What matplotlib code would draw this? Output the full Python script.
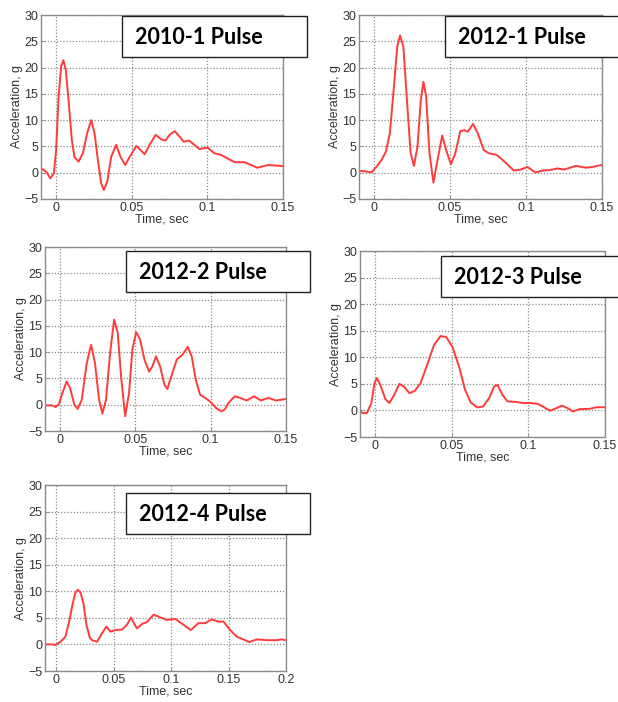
import matplotlib
matplotlib.use("Agg")
import matplotlib.pyplot as plt
from matplotlib.patches import Rectangle

# ---------------- data ----------------
t_2010_1 = [-0.0099, -0.0066, -0.0038, -0.0015, 0.0, 0.0015, 0.0033, 0.0048, 0.0064, 0.0082,
            0.0104, 0.0121, 0.0148, 0.0177, 0.0205, 0.0232, 0.0254, 0.0276, 0.0298, 0.0315,
            0.0338, 0.0364, 0.0397, 0.0426, 0.0457, 0.0486, 0.053, 0.0559, 0.0585, 0.0618,
            0.0658, 0.0695, 0.0722, 0.075, 0.0784, 0.0817, 0.0843, 0.088, 0.0914, 0.0947,
            0.1, 0.1046, 0.109, 0.1134, 0.118, 0.1245, 0.1289, 0.133, 0.14, 0.15]
a_2010_1 = [0.84, 0.2, -1.07, -0.1, 4.3, 13.8, 20.2, 21.4, 19.5, 13.8,
            6.2, 3.0, 2.1, 3.7, 7.5, 10.0, 7.5, 2.4, -2.0, -3.3,
            -1.7, 3.0, 5.3, 3.0, 1.46, 3.0, 5.1, 4.3, 3.5, 5.3,
            7.2, 6.35, 6.1, 7.2, 7.9, 6.85, 5.9, 6.1, 5.3, 4.5,
            4.8, 3.7, 3.4, 2.7, 2.0, 2.0, 1.46, 0.95, 1.46, 1.27]

t_2012_1 = [-0.0117, -0.0073, -0.0018, 0.0015, 0.0048, 0.0077, 0.0103, 0.013, 0.0152, 0.017,
            0.0192, 0.0214, 0.024, 0.0262, 0.0285, 0.0307, 0.0324, 0.0342, 0.0364, 0.039,
            0.0417, 0.0448, 0.0474, 0.0505, 0.0534, 0.0567, 0.0593, 0.0616, 0.0651, 0.0682,
            0.0722, 0.0755, 0.0805, 0.0843, 0.0876, 0.092, 0.0965, 0.1009, 0.106, 0.1108,
            0.1152, 0.1207, 0.125, 0.1328, 0.1394, 0.1438, 0.1496]
a_2012_1 = [0.38, 0.32, 0.07, 1.14, 2.4, 4.0, 7.5, 16.4, 24.0, 26.1,
            24.0, 14.5, 3.7, 1.3, 5.0, 13.8, 17.3, 14.5, 3.7, -1.9,
            2.4, 7.1, 4.3, 1.6, 3.7, 7.9, 8.1, 7.8, 9.3, 7.5,
            4.3, 3.7, 3.4, 2.5, 1.6, 0.4, 0.6, 1.1, 0.06, 0.4,
            0.5, 0.8, 0.6, 1.3, 0.95, 1.1, 1.46]

t_2012_2 = [-0.01, -0.0055, -0.0029, -0.0007, 0.0015, 0.0044, 0.0066, 0.0095, 0.0117, 0.0144,
            0.0177, 0.0206, 0.0232, 0.0259, 0.0281, 0.0305, 0.0332, 0.0359, 0.0383, 0.0405,
            0.0432, 0.0458, 0.048, 0.0505, 0.0531, 0.056, 0.0591, 0.0613, 0.0637, 0.0664,
            0.0693, 0.0712, 0.0742, 0.0775, 0.0812, 0.0848, 0.0874, 0.0901, 0.093, 0.0974,
            0.1007, 0.104, 0.1074, 0.1096, 0.1117, 0.116, 0.1195, 0.1239, 0.1288, 0.1333,
            0.1383, 0.1434, 0.15]
a_2012_2 = [-0.13, -0.13, -0.44, 0.13, 2.2, 4.4, 3.2, 0.0, -0.8, 0.95,
            7.9, 11.4, 7.9, 0.95, -1.7, 0.95, 9.8, 16.2, 13.6, 5.4,
            -2.2, 2.2, 10.5, 13.8, 12.4, 8.6, 6.3, 7.3, 9.2, 7.3,
            3.8, 3.0, 5.7, 8.6, 9.5, 11.0, 9.2, 4.75, 1.9, 1.1,
            0.3, -0.76, -1.27, -0.8, 0.3, 1.6, 1.3, 0.8, 1.6, 0.8,
            1.3, 0.8, 1.1]

t_2012_3 = [-0.011, -0.0083, -0.0055, -0.0026, -0.0005, 0.001, 0.0033, 0.0066, 0.0092, 0.012,
            0.0157, 0.0186, 0.0223, 0.0258, 0.0295, 0.0339, 0.0383, 0.0426, 0.0463, 0.0503,
            0.0547, 0.0586, 0.0623, 0.0667, 0.0704, 0.0743, 0.0776, 0.0798, 0.0831, 0.0863,
            0.0918, 0.0962, 0.1006, 0.106, 0.1093, 0.114, 0.118, 0.122, 0.1257, 0.129,
            0.1334, 0.14, 0.1443, 0.15]
a_2012_3 = [0.13, -0.5, -0.5, 1.4, 5.1, 6.1, 4.8, 2.1, 1.4, 2.75,
            5.0, 4.5, 3.25, 3.7, 5.1, 8.6, 12.3, 14.0, 13.8, 12.0,
            8.25, 3.9, 1.5, 0.56, 0.75, 2.3, 4.5, 4.8, 2.9, 1.7,
            1.6, 1.4, 1.4, 1.25, 0.75, -0.06, 0.4, 0.9, 0.4, -0.2,
            0.25, 0.3, 0.6, 0.6]

t_2012_4 = [-0.0096, -0.0038, -0.0009, 0.0035, 0.0078, 0.0107, 0.0136, 0.0162, 0.0186, 0.0209,
            0.0236, 0.0262, 0.029, 0.031, 0.0354, 0.0397, 0.0435, 0.047, 0.0513, 0.0571,
            0.0614, 0.0649, 0.0701, 0.0745, 0.0788, 0.0846, 0.0904, 0.0962, 0.1035, 0.1107,
            0.117, 0.1237, 0.1296, 0.135, 0.1412, 0.1455, 0.1513, 0.1571, 0.1629, 0.168,
            0.1745, 0.1832, 0.1919, 0.1962, 0.2]
a_2012_4 = [0.0, 0.0, -0.1, 0.5, 1.45, 4.0, 7.1, 9.6, 10.3, 9.8,
            7.6, 3.6, 1.3, 0.8, 0.5, 2.1, 3.35, 2.4, 2.7, 2.8,
            3.7, 5.05, 3.0, 3.85, 4.2, 5.6, 5.1, 4.6, 4.8, 3.7,
            2.7, 4.0, 4.0, 4.7, 4.3, 4.3, 2.7, 1.45, 0.95, 0.44,
            0.95, 0.8, 0.8, 0.95, 0.8]

titles = ["2010-1 Pulse", "2012-1 Pulse", "2012-2 Pulse", "2012-3 Pulse", "2012-4 Pulse"]
series = [(t_2010_1, a_2010_1), (t_2012_1, a_2012_1), (t_2012_2, a_2012_2),
          (t_2012_3, a_2012_3), (t_2012_4, a_2012_4)]
xmax = [0.15, 0.15, 0.15, 0.15, 0.2]
xticks = [[0, 0.05, 0.1, 0.15]] * 4 + [[0, 0.05, 0.1, 0.15, 0.2]]
xticklabels = [["0", "0.05", "0.1", "0.15"]] * 4 + [["0", "0.05", "0.1", "0.15", "0.2"]]
yticks = [-5, 0, 5, 10, 15, 20, 25, 30]

# ---------------- layout (pixels) ----------------
W, H = 618, 702
axes_px = [(41, 283, 15, 199), (359, 602, 15, 199), (45, 286, 247, 431),
           (360, 605, 251, 437), (45, 286, 485, 671)]
boxes_px = [(122, 307, 16, 57), (445, 622, 16, 57), (126, 310, 251, 292),
            (441, 622, 256, 297), (126, 310, 493, 534)]

plt.rcParams['font.family'] = ['Liberation Sans', 'DejaVu Sans']

fig = plt.figure(figsize=(W / 100, H / 100), dpi=100)

for i in range(5):
    l, r, tp, b = axes_px[i]
    ax = fig.add_axes([l / W, 1 - b / H, (r - l) / W, (b - tp) / H])
    t, a = series[i]
    ax.plot(t, a, color='#ff3b3b', lw=1.4, solid_joinstyle='round', solid_capstyle='round')
    ax.set_xlim(-0.01, xmax[i])
    ax.set_ylim(-5, 30)
    ax.set_xticks(xticks[i])
    ax.set_xticklabels(xticklabels[i])
    ax.set_yticks(yticks)
    ax.grid(True, linestyle=(0, (1, 1.5)), color='#8a8a8a', lw=0.9)
    ax.tick_params(direction='in', length=3, width=0.6, colors='#888888',
                   labelcolor='#333333', labelsize=9, pad=2)
    for s in ax.spines.values():
        s.set_color('#8a8a8a')
        s.set_linewidth(1.0)
    ax.set_xlabel("Time, sec", fontsize=9, color='#333333', labelpad=0)
    ax.set_ylabel("Acceleration, g", fontsize=9, color='#333333', labelpad=1)

    bl, br, bt, bb = boxes_px[i]
    rect = Rectangle((bl / W, 1 - bb / H), (br - bl) / W, (bb - bt) / H,
                     transform=fig.transFigure, facecolor='white',
                     edgecolor='#222222', lw=1.0, zorder=10)
    fig.add_artist(rect)
    fig.text((bl + 13) / W, 1 - ((bt + bb) / 2 + 1) / H, titles[i],
             fontsize=15.5, fontweight='bold', family=['Lato', 'DejaVu Sans'],
             color='black', va='center', ha='left', zorder=11)

fig.savefig("out.png", dpi=100)
